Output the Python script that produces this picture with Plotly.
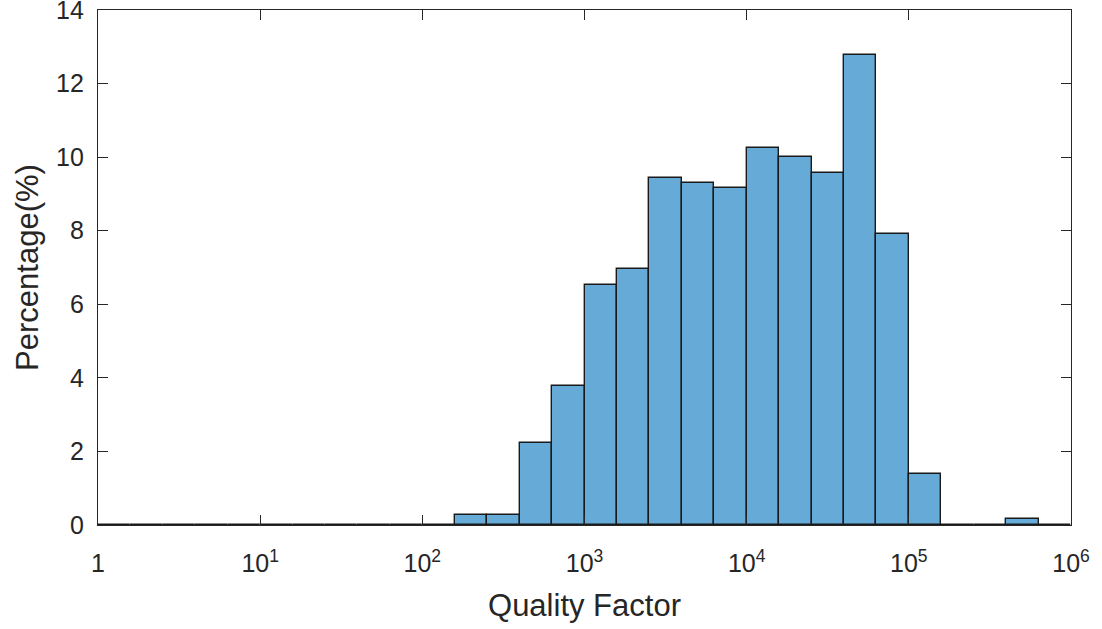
import plotly.graph_objects as go

# Histogram bins in log10(Quality Factor): lower edge exponent, bin width 0.2 decade
bin_lo_exp = [0.0, 0.2, 0.4, 0.6, 0.8, 1.0, 1.2, 1.4, 1.6, 1.8,
              2.0, 2.2, 2.4, 2.6, 2.8, 3.0, 3.2, 3.4, 3.6, 3.8,
              4.0, 4.2, 4.4, 4.6, 4.8, 5.0, 5.2, 5.4, 5.6, 5.8]
percent =    [0, 0, 0, 0, 0, 0, 0, 0, 0, 0,
              0, 0.27, 0.27, 2.23, 3.77, 6.52, 6.95, 9.44, 9.30, 9.15,
              10.26, 10.0, 9.57, 12.78, 7.9, 1.40, 0.0, 0.0, 0.15, 0.0]
bin_width = 0.2

tick_exp = [0, 1, 2, 3, 4, 5, 6]
tick_text = ["1", "10<sup>1</sup>", "10<sup>2</sup>", "10<sup>3</sup>", "10<sup>4</sup>",
             "10<sup>5</sup>", "10<sup>6</sup>"]
y_ticks = [0, 2, 4, 6, 8, 10, 12, 14]

centers = [e + bin_width / 2 for e in bin_lo_exp]

fig = go.Figure(go.Bar(
    x=centers, y=percent, width=bin_width,
    marker=dict(color="#66AAD7", line=dict(color="#1a1a1a", width=1.4)),
))

axis_color = "#262626"
font_family = "Liberation Sans, Arial, sans-serif"

fig.update_layout(
    width=1102, height=629,
    margin=dict(l=98, r=31, t=10, b=104),
    paper_bgcolor="white", plot_bgcolor="white",
    showlegend=False,
    bargap=0,
    font=dict(family=font_family, size=25, color=axis_color),
    xaxis=dict(
        range=[0, 6], tickvals=tick_exp, ticktext=tick_text,
        ticks="inside", ticklen=10, tickwidth=1.2, tickcolor=axis_color,
        showline=True, linecolor=axis_color, linewidth=1.3, mirror="ticks",
        showgrid=False, zeroline=False, automargin=False,
        ticklabelstandoff=16, ticklabeloverflow="allow",
        tickfont=dict(size=25, color=axis_color),
        title=dict(text="Quality Factor", font=dict(size=31, color=axis_color), standoff=18),
    ),
    yaxis=dict(
        range=[0, 14.0001], tickvals=y_ticks,
        ticks="inside", ticklen=10, tickwidth=1.2, tickcolor=axis_color,
        showline=True, linecolor=axis_color, linewidth=1.3, mirror="ticks",
        showgrid=False, zeroline=False, automargin=False,
        ticklabelstandoff=8, ticklabeloverflow="allow",
        tickfont=dict(size=25, color=axis_color),
        title=dict(text="Percentage(%)", font=dict(size=31, color=axis_color), standoff=8),
    ),
)

fig.write_html("out.html")
